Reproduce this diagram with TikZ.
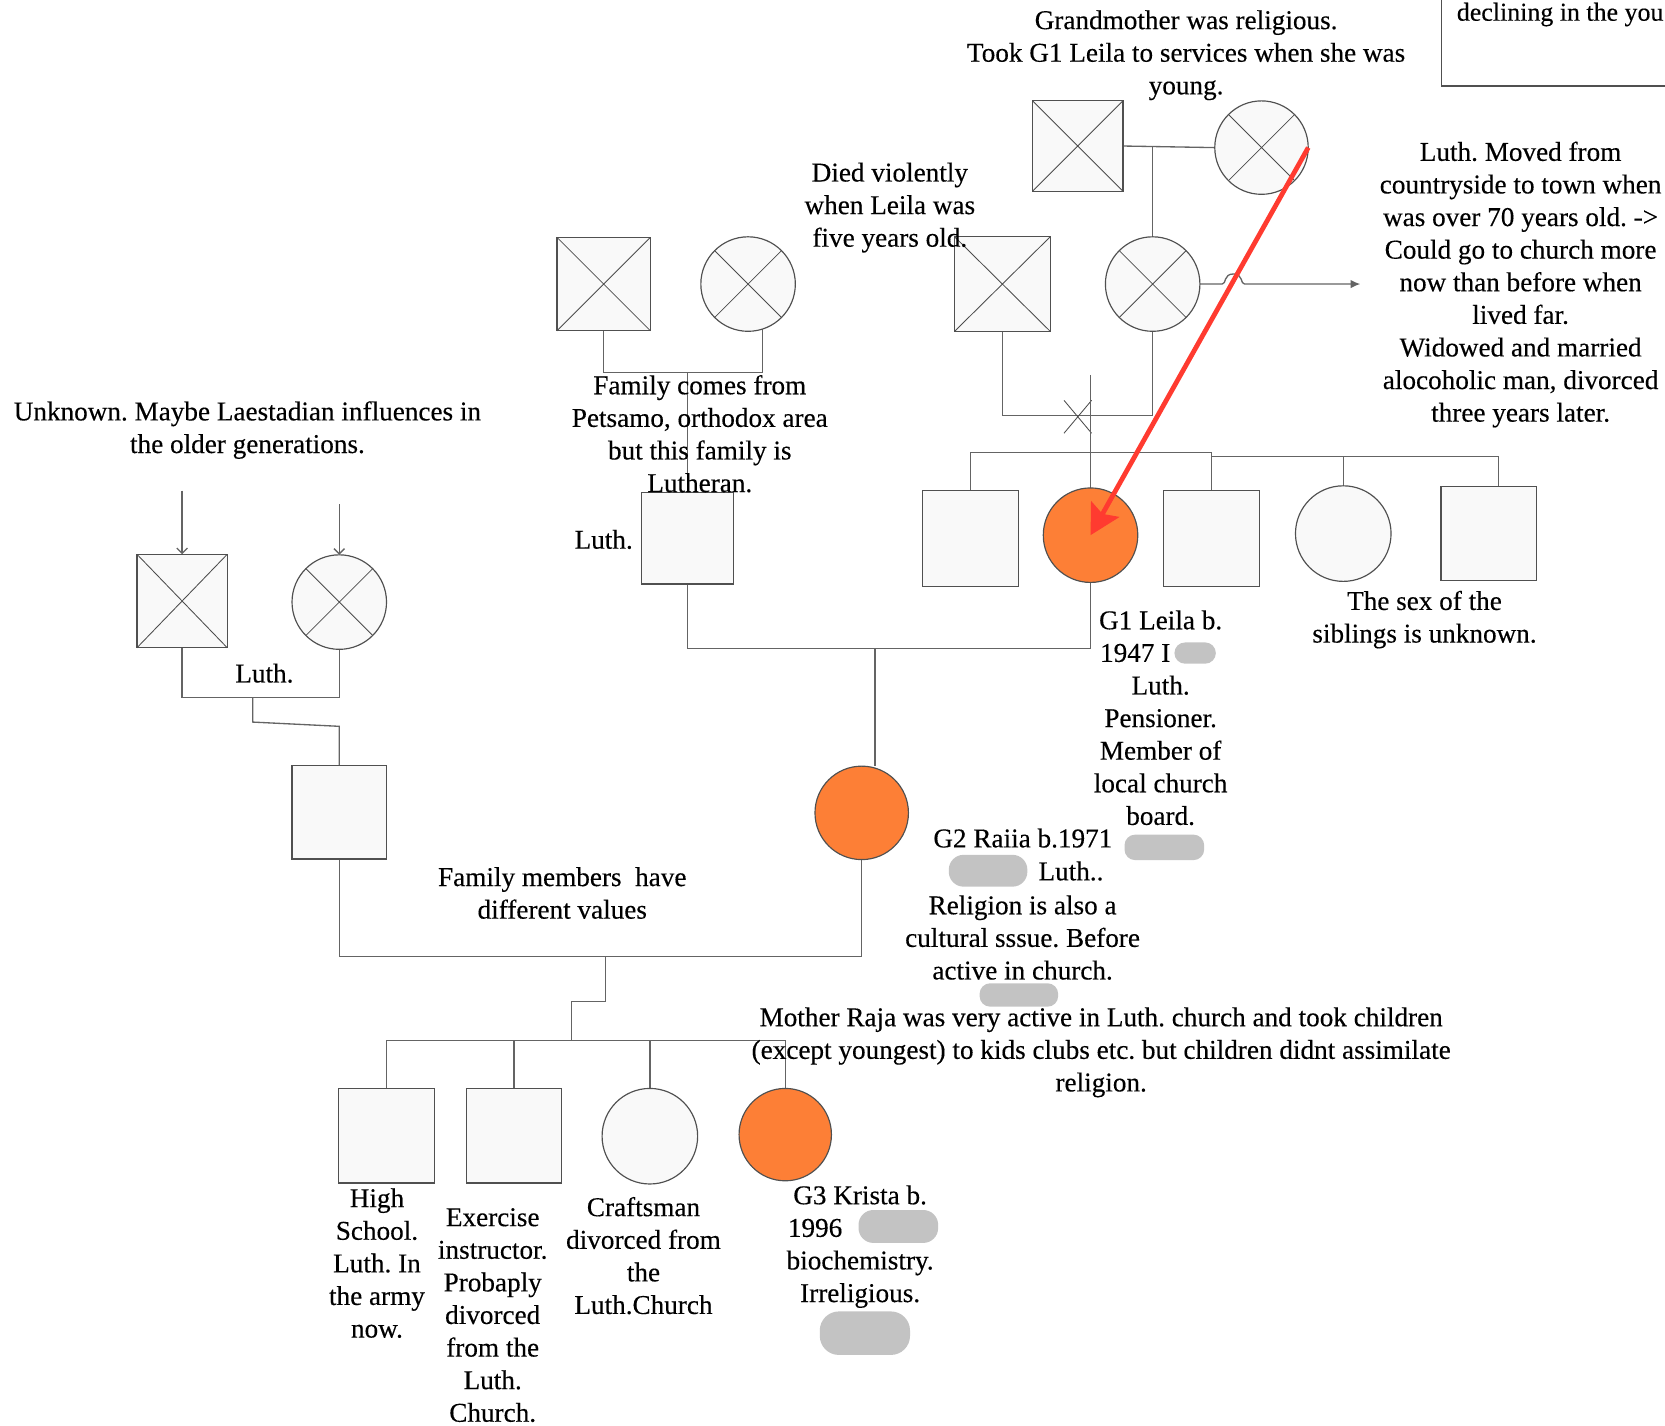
\documentclass[tikz,border=0pt]{standalone}
\usepackage{fontspec}
\setmainfont{Liberation Serif}[FakeBold=0.3]
\usetikzlibrary{arrows.meta,calc}
\definecolor{shapefill}{RGB}{249,249,249}
\definecolor{shapeline}{RGB}{80,80,80}
\definecolor{linecol}{RGB}{100,100,100}
\definecolor{orangef}{RGB}{253,127,54}
\definecolor{redarr}{RGB}{255,59,48}
\definecolor{blobcol}{RGB}{195,195,195}
\pgfdeclarelayer{background}
\pgfsetlayers{background,main}
\frenchspacing
\begin{document}
\begin{tikzpicture}[x=1pt,y=-1pt,
  every node/.style={inner sep=0pt,outer sep=0pt},
  txt/.style={align=center,font=\fontsize{25.6pt}{30.7pt}\selectfont\frenchspacing,text=black},
  sqn/.style={draw=shapeline,fill=shapefill,line width=1.1pt,rectangle,minimum width=88pt,minimum height=88pt},
  cin/.style={draw=shapeline,fill=shapefill,line width=1.1pt,circle,minimum size=89pt},
  orangep/.style={fill=orangef},
  conn/.style={draw=linecol,line width=1.25pt},
  xline/.style={draw=black!70,line width=0.8pt},
  blob/.style={fill=blobcol,rounded corners=10pt},
  barb/.style={-{Straight Barb[length=5pt,width=10pt]}}]
\useasboundingbox (0,0) rectangle (1568,1342);

% ---------- persons ----------
\node[sqn] (p1) at (568.5,267.5) {};
\node[cin] (p2) at (704.5,267.5) {};
\node[sqn,minimum width=85pt,minimum height=85pt] (gf) at (1015,137.5) {};
\node[cin,minimum size=88pt] (gm) at (1188,139) {};
\node[sqn,minimum width=90pt,minimum height=89pt] (gpf) at (944,267.5) {};
\node[cin] (gpm) at (1085.5,267.5) {};
\node[sqn,minimum width=87pt,minimum height=86pt] (luth) at (647.5,507) {};
\node[sqn,minimum width=90pt,minimum height=90pt] (s1) at (914,507) {};
\node[cin,orangep,minimum size=89pt] (leila) at (1027,504) {};
\node[sqn,minimum width=90pt,minimum height=90pt] (s3) at (1141,507) {};
\node[cin,minimum size=90pt] (s4) at (1265,502.5) {};
\node[sqn,minimum width=90pt,minimum height=89pt] (s5) at (1402,502.5) {};
\node[sqn,minimum width=85pt,minimum height=88pt] (lf) at (171.5,566) {};
\node[cin] (lmo) at (319.5,567) {};
\node[sqn,minimum width=89pt,minimum height=88pt] (h) at (319.5,765) {};
\node[cin,orangep,minimum size=88pt] (raija) at (811.5,765.5) {};
\node[sqn,minimum width=90pt,minimum height=89pt] (c1) at (364,1069.5) {};
\node[sqn,minimum width=90pt,minimum height=89pt] (c2) at (484,1069.5) {};
\node[cin,minimum size=90pt] (c3) at (612,1070) {};
\node[cin,orangep,minimum size=87pt] (krista) at (739.5,1068.5) {};

\foreach \n in {p1,p2,gf,gm,gpf,gpm,lf,lmo}
  \draw[xline] (\n.north west) -- (\n.south east) (\n.north east) -- (\n.south west);

% ---------- connectors ----------
\begin{pgfonlayer}{background}
\coordinate (pm) at (647.5,350.5);
\draw[conn] (p1.south) |- (pm) -| (p2.-72);
\draw[conn] (pm) -- (luth.north);
\coordinate (lm) at (824,611);
\draw[conn] (luth.south) |- (lm) -| (leila.south);
\draw[conn] (lm) -- (lm |- raija.north);
\coordinate (rm) at (570,901);
\coordinate (rk1) at (570,943);
\coordinate (rk2) at (538,943);
\coordinate (cl) at (538,980);
\draw[conn] (h.south) |- (rm) -| (raija.south);
\draw[conn] (rm) -- (rk1) -- (rk2) -- (cl);
\draw[conn] (c1.north) -- (c1.north |- cl) -- (krista.north |- cl) -- (krista.north);
\draw[conn] (c2.north) -- (c2.north |- cl);
\draw[conn] (c3.north) -- (c3.north |- cl);
\coordinate (la1) at (171.5,462);
\coordinate (la2) at (319.5,475);
\draw[conn,barb] (la1) -- (lf.north);
\draw[conn,barb] (la2) -- (lmo.north);
\coordinate (lmid) at (238,657);
\coordinate (lk1) at (238,680);
\coordinate (lk2) at (319.5,684);
\draw[conn] (lf.south) |- (lmid) -| (lmo.south);
\draw[conn] (lmid) -- (lk1) -- (lk2) -- (h.north);
\draw[conn] (gf.east) -- (gm.west);
\coordinate (ggv) at (1085.5,138.5);
\draw[conn] (ggv) -- (gpm.north);
\coordinate (gpl) at (1015,391.5);
\draw[conn] (gpf.south) |- (gpl) -| (gpm.south);
\draw[xline] (1002,377) -- (1028,408) (1002,408) -- (1028,377);
\coordinate (lv) at (1027,353);
\draw[conn] (lv) -- (leila.north);
\coordinate (sl1) at (0,426);
\coordinate (sl2) at (0,430);
\coordinate (s5top) at ($(s5.north)+(9,0)$);
\draw[conn] (s1.north) -- (s1.north |- sl1) -- (s3.north |- sl1) -- (s3.north);
\draw[conn] (s3.north |- sl2) -- (s5top |- sl2) -- (s5top);
\draw[conn] (s4.north) -- (s4.north |- sl2);
\coordinate (ar1) at (1281,267.5);
\draw[conn,-{Latex[length=9pt,width=8pt]}] (gpm.east) -- (1151,267.5)
   .. controls (1155,267.5) and (1152,258) .. (1161.5,258)
   .. controls (1171,258) and (1168,267.5) .. (1172,267.5) -- (ar1);
\end{pgfonlayer}

% ---------- top-right box ----------
\draw[draw=shapeline,line width=1.1pt] (1357.5,0) -- (1357.5,81) -- (1568,81);
\node[txt,font=\fontsize{24.4pt}{30pt}\selectfont,anchor=base west] (decl) at (1372,19.5) {declining in the you};

% ---------- texts ----------
\node[txt] (tgm) at (1117,52) {Grandmother was religious.\\Took G1 Leila to services when she was\\young.};
\node[txt] (tdied) at (838,195.5) {Died violently\\when Leila was\\five years old.};
\node[txt] (tpet) at (659,408.5) {Family comes from\\Petsamo, orthodox area\\but this family is\\Lutheran.};
\node[txt] (tunk) at (233,405) {Unknown. Maybe Laestadian influences in\\the older generations.};
\node[txt] (tluth1) at (568.5,508) {Luth.};
\node[txt] (tluth2) at (249,634) {Luth.};
\node[txt] (tsex) at (1341.5,583.5) {The sex of the\\siblings is unknown.};
\node[txt] (tleila) at (1093,676) {G1 Leila b.\\\makebox[114pt][l]{1947 I}\\Luth.\\Pensioner.\\Member of\\local church\\board.};
\node[txt] (tmoved) at (1432,268) {Luth. Moved from\\countryside to town when\\was over 70 years old. ->\\Could go to church more\\now than before when\\lived far.\\Widowed and married\\alocoholic man, divorced\\three years later.};
\node[txt,anchor=base west] (traija1) at (879,798) {G2 Raiia b.1971};
\node[txt,anchor=base west] (traija2) at (978,829) {Luth..};
\node[txt] (traija3) at (963,883) {Religion is also a\\cultural sssue. Before\\active in church.};
\node[txt] (tfam) at (529.5,841) {Family members\ \ have\\different values};
\node[txt] (tmother) at (1037,991) {Mother Raja was very active in Luth. church and took children\\(except youngest) to kids clubs etc. but children didnt assimilate\\religion.};
\node[txt] (tc1) at (355,1189.5) {High\\School.\\Luth. In\\the army\\now.};
\node[txt] (tc2) at (464,1238.5) {Exercise\\instructor.\\Probaply\\divorced\\from the\\Luth.\\Church.};
\node[txt] (tc3) at (606,1182.5) {Craftsman\\divorced from\\the\\Luth.Church};
\node[txt] (tkrista) at (810,1174) {G3 Krista b.\\\makebox[136pt][l]{1996}\\biochemistry.\\Irreligious.};

% ---------- redaction blobs ----------
\node[blob,minimum width=75pt,minimum height=24pt] (bl1) at (1096.5,798) {};
\node[blob,rounded corners=14pt,minimum width=74pt,minimum height=30pt] (bl2) at (930.5,820) {};
\node[blob,minimum width=74pt,minimum height=22pt] (bl3) at (959.5,937) {};
\node[blob,minimum width=39pt,minimum height=20pt] (bl4) at (1125.5,615) {};
\node[blob,rounded corners=14pt,minimum width=75pt,minimum height=31pt] (bl5) at (846,1155) {};
\node[blob,rounded corners=18pt,minimum width=85pt,minimum height=41pt] (bl6) at (814.5,1255.5) {};

% ---------- red arrow ----------
\draw[redarr,line width=4.5pt,-{Stealth[length=28pt,width=30pt,inset=5pt]}] (gm.east) -- (leila.center);
\end{tikzpicture}
\end{document}
